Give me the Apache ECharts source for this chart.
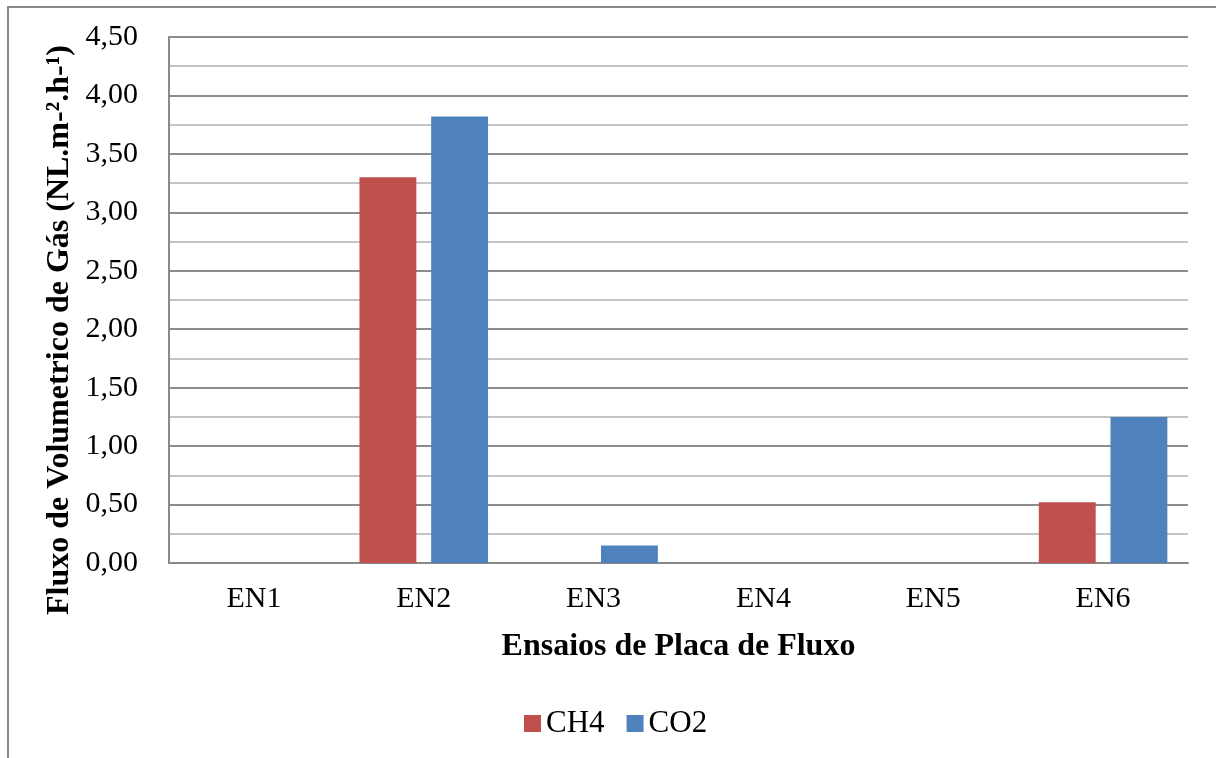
<!DOCTYPE html>
<html>
<head>
<meta charset="utf-8">
<script src="https://cdn.jsdelivr.net/npm/echarts@6/dist/echarts.min.js"></script>
<style>html,body{margin:0;padding:0;background:#fff}#c{width:1216px;height:758px}</style>
</head>
<body>
<div id="c"></div>
<script>
var categories = ['EN1', 'EN2', 'EN3', 'EN4', 'EN5', 'EN6'];
var ch4 = [0, 3.30, 0, 0, 0, 0.52];
var co2 = [0, 3.82, 0.15, 0, 0, 1.25];
var seriesNames = ['CH4', 'CO2'];
var yTicks = {min: 0, max: 4.5, interval: 0.5};
var yTitle = 'Fluxo de Volumetrico de Gás (NL.m-².h-¹)';
var xTitle = 'Ensaios de Placa de Fluxo';

var chart = echarts.init(document.getElementById('c'));
var font = '"Liberation Serif", "Times New Roman", serif';
chart.setOption({
  animation: false,
  backgroundColor: '#fff',
  graphic: [{
    type: 'rect', silent: true, z: -1,
    shape: {x: 8, y: 7, width: 1400, height: 900},
    style: {fill: 'none', stroke: '#898989', lineWidth: 2}
  }, {
    type: 'text', silent: true,
    x: 60, y: 330, rotation: Math.PI / 2,
    style: {
      text: yTitle, fill: '#000',
      font: 'bold 32px "Liberation Serif", "Times New Roman", serif',
      textAlign: 'center', textVerticalAlign: 'middle'
    }
  }],
  grid: {left: 169, right: 28, top: 37, bottom: 195},
  legend: {
    data: seriesNames,
    left: 519, top: 703,
    itemWidth: 17, itemHeight: 17, itemGap: 22,
    icon: 'rect',
    textStyle: {fontFamily: font, fontSize: 31, color: '#000', padding: [0, 0, 0, 0]}
  },
  xAxis: {
    type: 'category',
    data: categories,
    name: xTitle,
    nameLocation: 'middle',
    nameGap: 68,
    nameTextStyle: {fontFamily: font, fontSize: 32, fontWeight: 'bold', color: '#000'},
    axisLine: {lineStyle: {color: '#898989', width: 2}},
    axisTick: {show: false},
    axisLabel: {fontFamily: font, fontSize: 30, color: '#000', margin: 21}
  },
  yAxis: {
    type: 'value',
    min: yTicks.min, max: yTicks.max, interval: yTicks.interval,
    axisLine: {show: true, lineStyle: {color: '#898989', width: 2}},
    axisTick: {show: false},
    axisLabel: {
      fontFamily: font, fontSize: 30, color: '#000', margin: 31,
      formatter: function (v) { return v.toFixed(2).replace('.', ','); }
    },
    splitLine: {show: true, lineStyle: {color: '#8c8c8c', width: 2}},
    minorTick: {show: false, splitNumber: 2},
    minorSplitLine: {show: true, lineStyle: {color: '#c4c4c4', width: 2}}
  },
  series: [
    {name: seriesNames[0], type: 'bar', data: ch4, barWidth: '33.5%', barGap: '26%',
     itemStyle: {color: '#C0504D'}},
    {name: seriesNames[1], type: 'bar', data: co2, barWidth: '33.5%', barGap: '26%',
     itemStyle: {color: '#4F81BD'}}
  ]
});
</script>
</body>
</html>
